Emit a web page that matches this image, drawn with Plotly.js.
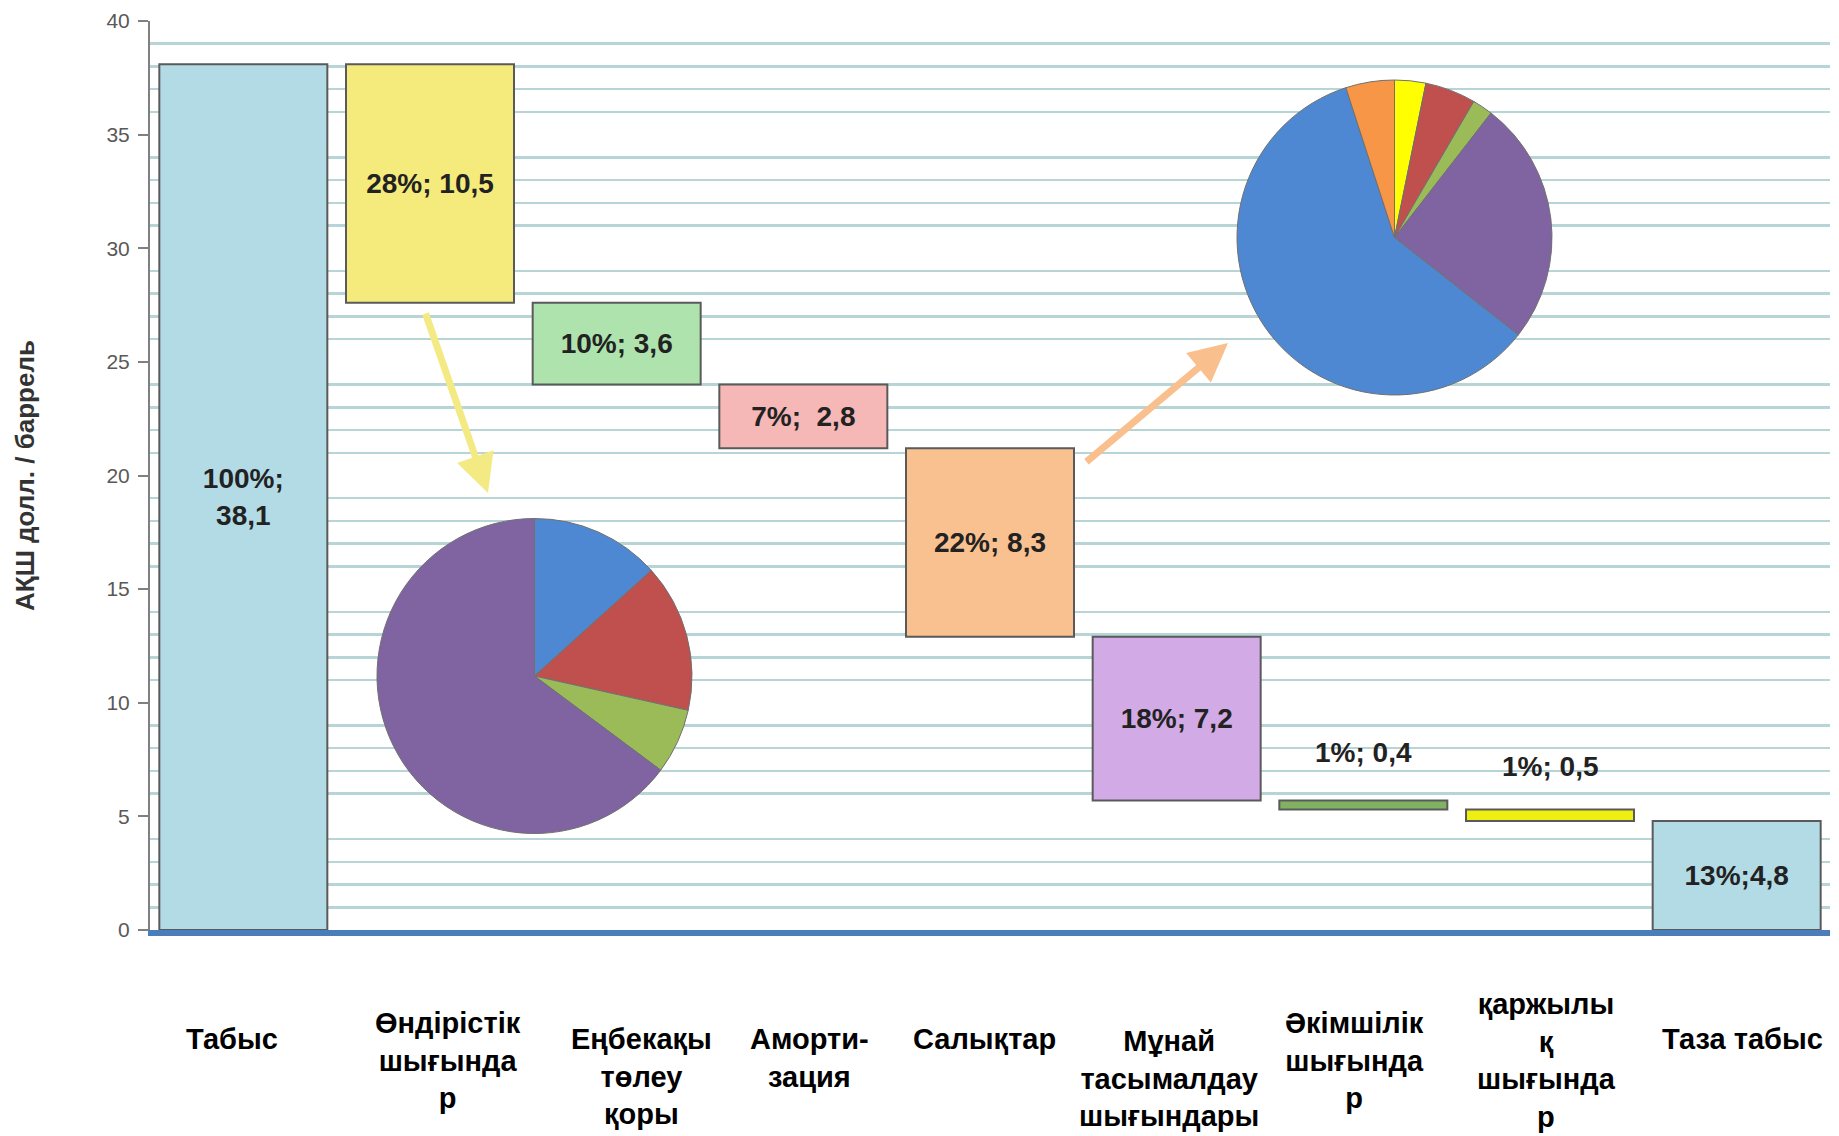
<!DOCTYPE html>
<html>
<head>
<meta charset="utf-8">
<script src="https://cdn.plot.ly/plotly-3.0.1.min.js"></script>
<style>html,body{margin:0;padding:0;background:#ffffff;}</style>
</head>
<body>
<div id="chart" style="width:1839px;height:1136px;"></div>
<script>
// ---------------- DATA ----------------
const categories = ['Табыс', 'Өндірістік шығындар', 'Еңбекақы төлеу қоры', 'Амортизация', 'Салықтар',
  'Мұнай тасымалдау шығындары', 'Әкімшілік шығындар', 'Қаржылық шығындар', 'Таза табыс'];
const categoryLabels = ['Табыс', 'Өндірістік<br>шығында<br>р', 'Еңбекақы<br>төлеу<br>қоры', 'Аморти-<br>зация',
  'Салықтар', 'Мұнай<br>тасымалдау<br>шығындары', 'Әкімшілік<br>шығында<br>р', 'қаржылы<br>қ<br>шығында<br>р', 'Таза табыс'];
const values = [38.1, 10.5, 3.6, 2.8, 8.3, 7.2, 0.4, 0.5, 4.8];
const barKinds = ['total', 'minus', 'minus', 'minus', 'minus', 'minus', 'minus', 'minus', 'total'];
const barLabels = ['100%;<br>38,1', '28%; 10,5', '10%; 3,6', '7%;\u00a0 2,8', '22%; 8,3', '18%; 7,2', '1%; 0,4', '1%; 0,5', '13%;4,8'];
// breakdown of production costs (first pie), shares in %
const pieProductionValues = [13.3, 15.2, 6.7, 64.8];
// breakdown of taxes (second pie), shares in %
const pieTaxValues = [3.2, 5.2, 2.1, 25.1, 59.4, 5.0];

// ---------------- STYLE / LAYOUT CONSTANTS ----------------
const barColors = ['#b3dbe6', '#f4eb7c', '#aee3ae', '#f6b7b7', '#f9c190', '#d2aae6', '#80b262', '#eeee12', '#b3dbe6'];
const pieProductionColors = ['#4f88d2', '#c0504d', '#9bbb59', '#8064a2'];
const pieTaxColors = ['#ffff00', '#c0504d', '#9bbb59', '#8064a2', '#4f88d2', '#f79646'];
const labelShiftX = [-11, 18, 25, 6, -6, -8, -9, -4, 6];
const labelShiftY = [-91, -75, -91, -91, -91, -93, -75, -56, -91];
const smallLabelShiftY = [0, 0, 0, 0, 0, 0, 30, 26, 0];
const W = 1839, H = 1136;
const M = {l: 150, r: 9, t: 21, b: 206};

// ---------------- BUILD ----------------
const bases = [], heights = [];
let running = 0;
values.forEach((v, i) => {
  if (barKinds[i] === 'total') { bases.push(0); running = v; }
  else { running = running - v; bases.push(running); }
  heights.push(v);
});
const isSmall = heights.map(h => h < 1);

const textFont = {family: 'Liberation Sans, Arial, sans-serif', size: 28, color: '#222222', weight: 'bold'};

const barTrace = {
  type: 'bar',
  x: categories,
  y: heights,
  base: bases,
  width: 0.9,
  marker: {color: barColors, line: {color: '#5a5a5a', width: 2}},
  text: barLabels.map((t, i) => isSmall[i] ? '' : t),
  textposition: 'inside',
  insidetextanchor: 'middle',
  textangle: 0,
  constraintext: 'none',
  textfont: textFont,
  insidetextfont: textFont,
  hoverinfo: 'x+y',
  showlegend: false
};

const pw = W - M.l - M.r, ph = H - M.t - M.b;
function pieDomain(cx, cy, r) {
  return {
    x: [(cx - r - M.l) / pw, (cx + r - M.l) / pw],
    y: [(H - M.b - cy - r) / ph, (H - M.b - cy + r) / ph]
  };
}

const pie1 = {
  type: 'pie', values: pieProductionValues, sort: false, direction: 'clockwise', rotation: 0,
  marker: {colors: pieProductionColors, line: {color: '#707070', width: 1}},
  textinfo: 'none', showlegend: false, hoverinfo: 'percent',
  domain: pieDomain(534.5, 676, 157.5)
};
const pie2 = {
  type: 'pie', values: pieTaxValues, sort: false, direction: 'clockwise', rotation: 0,
  marker: {colors: pieTaxColors, line: {color: '#707070', width: 1}},
  textinfo: 'none', showlegend: false, hoverinfo: 'percent',
  domain: pieDomain(1394.5, 237.5, 157.5)
};

const annotations = [];
categoryLabels.forEach((lab, i) => {
  annotations.push({
    x: categories[i], xref: 'x', y: 0, yref: 'paper',
    xanchor: 'center', yanchor: 'top', xshift: labelShiftX[i], yshift: labelShiftY[i],
    text: lab, showarrow: false, align: 'center',
    font: {family: 'Liberation Sans, Arial, sans-serif', size: 29, color: '#000000', weight: 'bold'}
  });
});
barLabels.forEach((t, i) => {
  if (!isSmall[i]) return;
  annotations.push({
    x: categories[i], xref: 'x', y: bases[i] + heights[i], yref: 'y',
    xanchor: 'center', yanchor: 'bottom', yshift: smallLabelShiftY[i],
    text: t, showarrow: false, font: textFont
  });
});
// arrows from the bars to the breakdown pies
function px2paper(x, y) { return {x: (x - M.l) / pw, y: (H - M.b - y) / ph}; }
const tipA = px2paper(488, 493);
annotations.push({
  x: tipA.x, y: tipA.y, xref: 'paper', yref: 'paper', ax: 425 - 488, ay: 312 - 493,
  text: '', showarrow: true, arrowhead: 2, arrowsize: 1.1, arrowwidth: 7, arrowcolor: '#f4ea84'
});
const tipB = px2paper(1228, 343);
annotations.push({
  x: tipB.x, y: tipB.y, xref: 'paper', yref: 'paper', ax: 1085 - 1228, ay: 463 - 343,
  text: '', showarrow: true, arrowhead: 2, arrowsize: 1.1, arrowwidth: 7, arrowcolor: '#f9bf8c'
});

const layout = {
  width: W, height: H,
  margin: M,
  paper_bgcolor: '#ffffff', plot_bgcolor: '#ffffff',
  bargap: 0.1,
  xaxis: {
    type: 'category', range: [-0.5, 8.5], showticklabels: false, ticks: '',
    showgrid: false, zeroline: false, showline: true, linecolor: '#4a7ebb', linewidth: 6
  },
  yaxis: {
    range: [0, 40], tick0: 0, dtick: 5, showgrid: false, zeroline: false,
    ticks: 'outside', ticklen: 10, tickwidth: 2, tickcolor: '#808080',
    showline: true, linecolor: '#808080', linewidth: 2,
    ticklabelstandoff: 4,
    tickfont: {family: 'Liberation Sans, Arial, sans-serif', size: 21, color: '#595959'},
    minor: {tick0: 0, dtick: 1, showgrid: true, gridcolor: '#b7d4d7', gridwidth: 2.5, ticks: ''},
    title: {
      text: 'АҚШ долл. / баррель', standoff: 64,
      font: {family: 'Liberation Sans, Arial, sans-serif', size: 26, color: '#333333', weight: 'bold'}
    }
  },
  annotations: annotations,
  hovermode: 'closest'
};

Plotly.newPlot('chart', [barTrace, pie1, pie2], layout, {displayModeBar: false, staticPlot: true});
</script>
</body>
</html>
